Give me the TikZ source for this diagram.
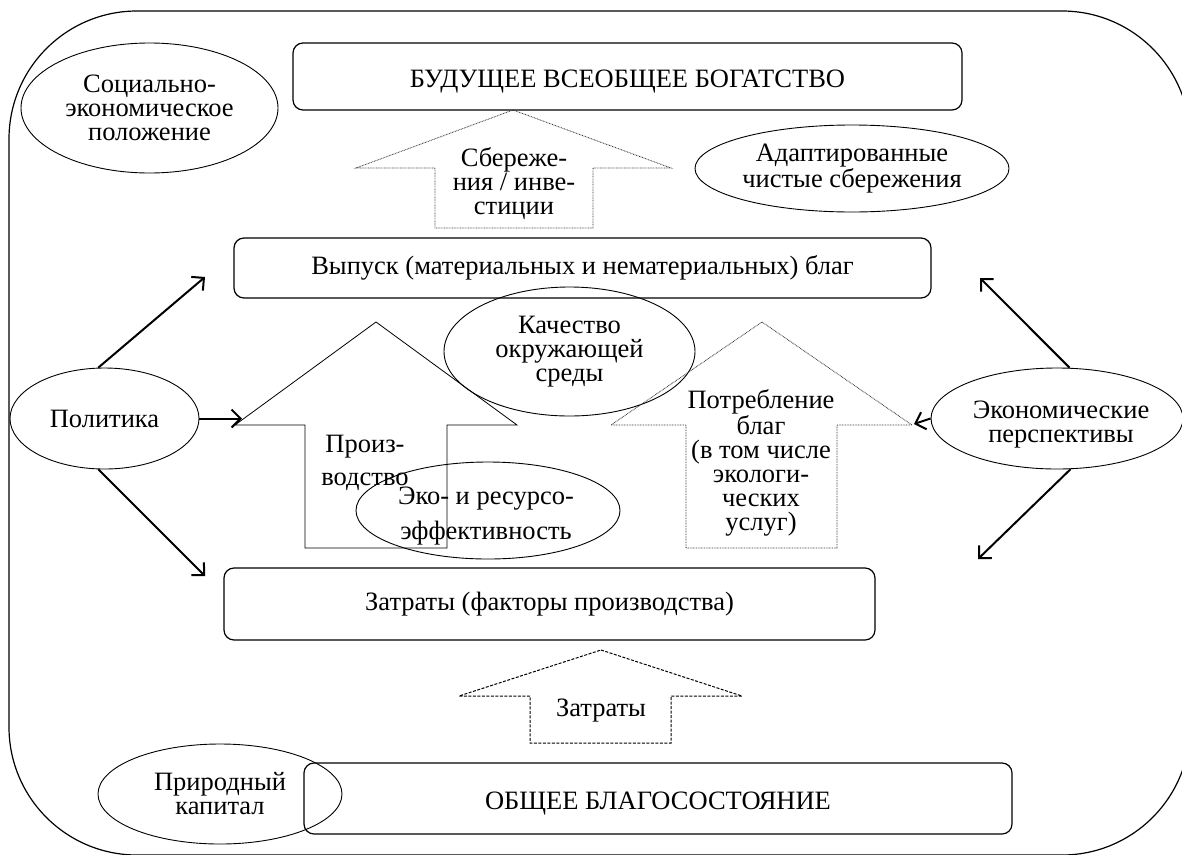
\documentclass[tikz,border=0pt]{standalone}
\usepackage{fontspec}
\setmainfont{Liberation Serif}
\usetikzlibrary{arrows.meta, shapes.geometric}

\begin{document}
\begin{tikzpicture}[
    x=1pt, y=-1pt,
    font=\fontsize{26.5}{24}\selectfont,
    box/.style={draw, rounded corners=10pt, line width=1.2pt, inner sep=0pt},
    lowbox/.style={box, text height=26pt, text depth=5pt},
    oval/.style={draw, ellipse, line width=0.9pt, inner sep=0pt, align=center},
    arr/.style={-{Straight Barb[length=9pt, width=18pt]}, line width=2pt},
    solidarr/.style={line width=0.8pt},
    dotarr/.style={line width=0.8pt, black!80, dash pattern=on 0.8pt off 0.8pt},
    dasharr/.style={line width=1pt, dash pattern=on 3pt off 1.5pt},
    txt/.style={align=center, inner sep=0pt}
]
\useasboundingbox (0,0) rectangle (1182,854);

% outer frame
\begin{scope}
  \clip (0,0) rectangle (1182,854);
  \draw[line width=1.2pt, rounded corners=128pt] (9,11) rectangle (1190,855);
\end{scope}

% boxes
\node[lowbox, minimum width=669pt, minimum height=67pt] (future) at (627.5,76.5) {БУДУЩЕЕ ВСЕОБЩЕЕ БОГАТСТВО};
\node[box, minimum width=697pt, minimum height=60pt] (output) at (582.5,268) {Выпуск (материальных и нематериальных) благ};
\node[box, minimum width=651pt, minimum height=72pt] (inputs) at (549.5,604) {Затраты (факторы производства)};
\node[lowbox, minimum width=708pt, minimum height=71pt] (wealth) at (658,798.5) {ОБЩЕЕ БЛАГОСОСТОЯНИЕ};

% ellipses
\node[oval, minimum width=257pt, minimum height=130pt] (social) at (149.5,108) {Социально-\\экономическое\\положение};
\node[oval, minimum width=314pt, minimum height=87pt] (adapted) at (852,168.5) {Адаптированные\\чистые сбережения};
\node[oval, minimum width=251pt, minimum height=129pt] (quality) at (569.5,351.5) {Качество\\окружающей\\среды};
\node[oval, minimum width=189pt, minimum height=101pt] (policy) at (104.5,418.5) {Политика};
\node[oval, minimum width=252pt, minimum height=101pt] (econ) at (1057,418.5) {};
\node[txt] (econ-txt) at (1061,425) {Экономические\\перспективы};
\node[oval, minimum width=264pt, minimum height=97pt] (eco) at (488,510.5) {};
\node[txt, font=\fontsize{26.5}{35}\selectfont] (eco-txt) at (486,516) {Эко- и ресурсо-\\эффективность};
\node[oval, minimum width=244pt, minimum height=100pt] (natural) at (220,794) {Природный\\капитал};

% block arrows
\draw[dotarr] (513,110) -- (671,168) -- (593,168) -- (593,228) -- (435,228) -- (435,168) -- (356,168) -- cycle;
\draw[solidarr] (376,322) -- (517,425) -- (447,425) -- (447,548) -- (305,548) -- (305,425) -- (235,425) -- cycle;
\draw[dotarr] (762,322) -- (912,425) -- (837,425) -- (837,548) -- (686,548) -- (686,425) -- (611,425) -- cycle;
\draw[dasharr] (601,650) -- (742,696) -- (671,696) -- (671,743) -- (530,743) -- (530,696) -- (459,696) -- cycle;

\node[txt] (savings) at (514,184) {Сбереже-\\ния / инве-\\стиции};
\node[txt, font=\fontsize{26.5}{33}\selectfont] (production) at (365,463) {Произ-\\водство};
\node[txt] (consumption) at (761,463) {Потребление\\благ\\(в том числе\\экологи-\\ческих\\услуг)};
\node[txt] (inflow) at (601,711) {Затраты};

% influence arrows
\coordinate (pol-out) at (205,277);
\coordinate (pol-prod) at (242,418.5);
\coordinate (pol-in) at (205,576);
\coordinate (econ-out) at (980,278);
\coordinate (econ-cons) at (914,424);
\coordinate (econ-in) at (978,559);

\draw[arr] (policy.97) -- (pol-out);
\draw[arr] (policy.east) -- (pol-prod);
\draw[arr] (policy.263) -- (pol-in);
\draw[arr] (econ.76) -- (econ-out);
\draw[arr] (econ.west) -- (econ-cons);
\draw[arr] (econ.285) -- (econ-in);
\end{tikzpicture}
\end{document}
